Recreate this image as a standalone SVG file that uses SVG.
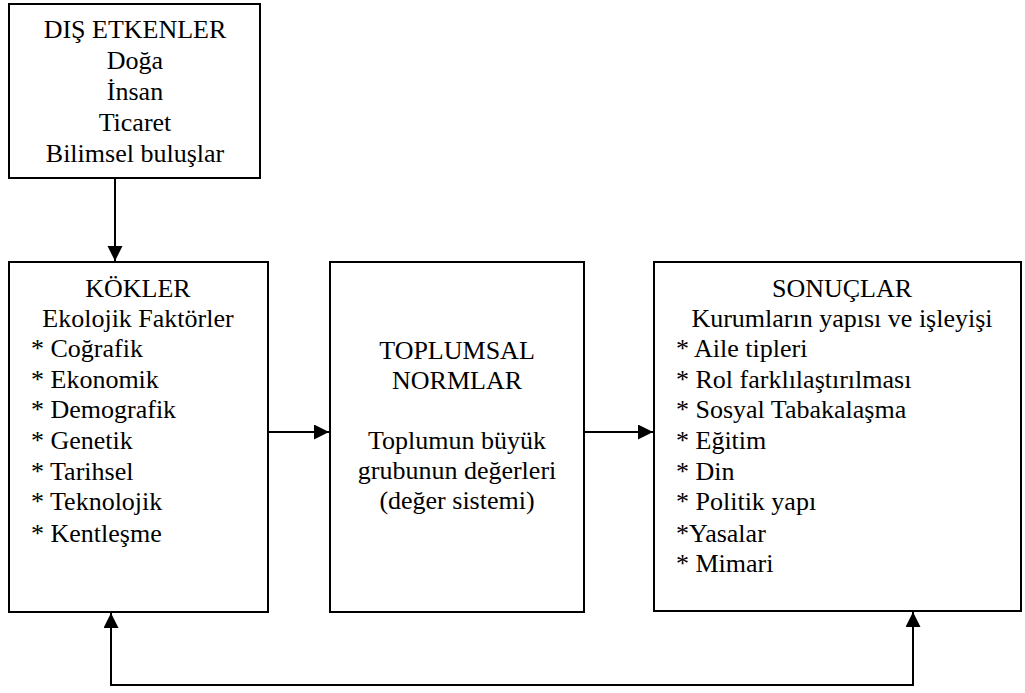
<svg xmlns="http://www.w3.org/2000/svg" width="1025" height="693" viewBox="0 0 1025 693">
<style>
.box{fill:#fff;stroke:#000;stroke-width:2}
text{font-family:'Liberation Serif','DejaVu Serif',serif;font-size:26px;fill:#000}
.c{text-anchor:middle}
.con{fill:none;stroke:#000;stroke-width:2}
</style>
<defs>
<marker id="ah" markerUnits="userSpaceOnUse" markerWidth="16" markerHeight="16" refX="15" refY="7.5" orient="auto">
<path d="M0,0 L15,7.5 L0,15 z" fill="#000"/>
</marker>
</defs>
<rect width="1025" height="693" fill="#fff"/>
<g id="dis-etkenler" font-family="Liberation Serif">
<rect class="box" x="9" y="4" width="251" height="174"/>
<text class="c" x="135" y="38">DIŞ ETKENLER</text>
<text class="c" x="135" y="69">Doğa</text>
<text class="c" x="135" y="100">İnsan</text>
<text class="c" x="135" y="131">Ticaret</text>
<text class="c" x="135" y="162">Bilimsel buluşlar</text>
</g>
<g id="kokler">
<rect class="box" x="9" y="262" width="259" height="350"/>
<text class="c" x="138" y="297">KÖKLER</text>
<text class="c" x="138" y="327">Ekolojik Faktörler</text>
<text x="31" y="357">* Coğrafik</text>
<text x="31" y="388">* Ekonomik</text>
<text x="31" y="418">* Demografik</text>
<text x="31" y="449">* Genetik</text>
<text x="31" y="480">* Tarihsel</text>
<text x="31" y="510">* Teknolojik</text>
<text x="31" y="542">* Kentleşme</text>
</g>
<g id="toplumsal-normlar">
<rect class="box" x="330" y="262" width="254" height="350"/>
<text class="c" x="457" y="359">TOPLUMSAL</text>
<text class="c" x="457" y="389">NORMLAR</text>
<text class="c" x="457" y="449">Toplumun büyük</text>
<text class="c" x="457" y="479">grubunun değerleri</text>
<text class="c" x="457" y="509">(değer sistemi)</text>
</g>
<g id="sonuclar">
<rect class="box" x="654" y="262" width="367" height="349"/>
<text class="c" x="842" y="297">SONUÇLAR</text>
<text class="c" x="842" y="327">Kurumların yapısı ve işleyişi</text>
<text x="676" y="357">* Aile tipleri</text>
<text x="676" y="388">* Rol farklılaştırılması</text>
<text x="676" y="418">* Sosyal Tabakalaşma</text>
<text x="676" y="449">* Eğitim</text>
<text x="676" y="480">* Din</text>
<text x="676" y="510">* Politik yapı</text>
<text x="676" y="542">*Yasalar</text>
<text x="676" y="572">* Mimari</text>
</g>
<g id="connectors">
<line class="con" x1="115" y1="178" x2="115" y2="261" marker-end="url(#ah)"/>
<line class="con" x1="268" y1="432" x2="329" y2="432" marker-end="url(#ah)"/>
<line class="con" x1="584" y1="432" x2="653" y2="432" marker-end="url(#ah)"/>
<polyline class="con" points="913,685 111,685"/>
<line class="con" x1="111" y1="686" x2="111" y2="613" marker-end="url(#ah)"/>
<line class="con" x1="913" y1="686" x2="913" y2="612" marker-end="url(#ah)"/>
</g>
</svg>
